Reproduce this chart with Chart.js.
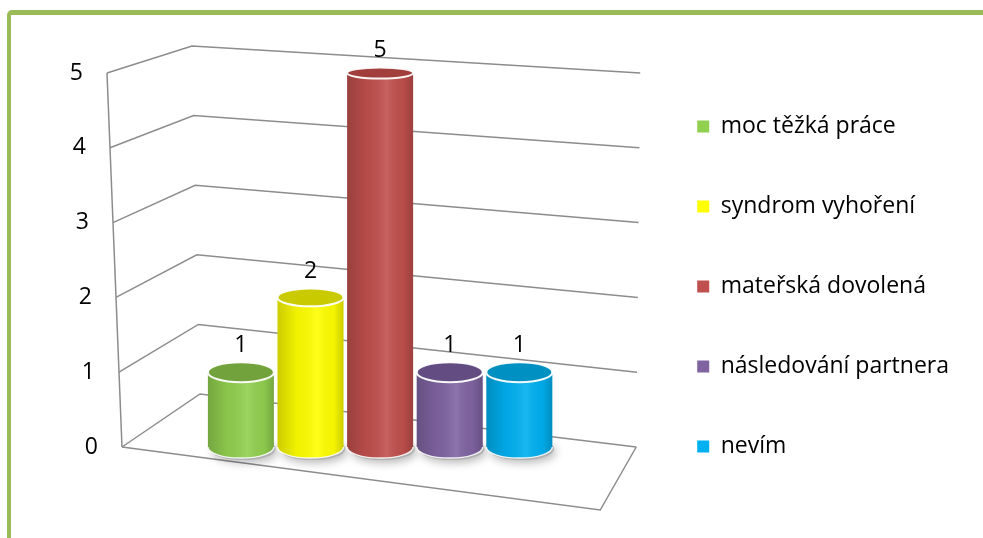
<!DOCTYPE html>
<html>
<head>
<meta charset="utf-8">
<script src="https://cdn.jsdelivr.net/npm/chart.js@4.4.1/dist/chart.umd.min.js"></script>
<style>
  html, body { margin: 0; padding: 0; background: #fff; overflow: hidden; }
  #frame {
    position: absolute; left: 7px; top: 10px; width: 1000px; height: 560px;
    border-top: 5px solid #9BBB59; border-left: 4px solid #9BBB59;
    border-top-left-radius: 5px; box-sizing: border-box;
  }
  #wrap { position: absolute; left: 0; top: 0; width: 983px; height: 538px; }
</style>
</head>
<body>
<div id="frame"></div>
<div id="wrap"><canvas id="c" width="983" height="538"></canvas></div>
<script>
// ---- data ----
const categories = ['moc těžká práce', 'syndrom vyhoření', 'mateřská dovolená', 'následování partnera', 'nevím'];
const values = [1, 2, 5, 1, 1];
const yTicks = [0, 1, 2, 3, 4, 5];
const barColors = ['#92D050', '#FFFF00', '#C0504D', '#8064A2', '#00B0F0'];
const capColors = ['#72A23C', '#CACA00', '#A23E3C', '#624C82', '#0090C2'];

const FONT = "'Open Sans', 'Noto Sans', sans-serif";

function capRy(y, chart) {
  const a = chart.chartArea;
  return 5.5 + (y - a.top) * 0.015;
}

// 3D-looking frame and axis labels drawn from the y scale's pixels
const framePlugin = {
  id: 'frame3d',
  beforeDatasetsDraw(chart) {
    const ctx = chart.ctx;
    const ys = chart.scales.y;
    const a = chart.chartArea;
    const H = a.bottom - a.top;
    const front = (py) => { const t = (a.bottom - py) / H; return a.left + 2 - 15 * t; };
    const back = (py) => { const t = (a.bottom - py) / H; return [a.left + 80 - 8 * t, py - 53 + 26 * t]; };
    const rightX = (py) => { const t = (a.bottom - py) / H; return a.right - 4 + 4 * t; };
    ctx.save();
    ctx.strokeStyle = '#8C8C8C';
    ctx.lineWidth = 1.5;
    yTicks.forEach(v => {
      const py = ys.getPixelForValue(v);
      const [bx, by] = back(py);
      ctx.beginPath();
      ctx.moveTo(front(py), py);
      ctx.lineTo(bx, by);
      ctx.lineTo(rightX(py), py);
      ctx.stroke();
    });
    const pTop = ys.getPixelForValue(yTicks[yTicks.length - 1]);
    const pBot = ys.getPixelForValue(0);
    ctx.beginPath();
    ctx.moveTo(front(pTop), pTop);
    ctx.lineTo(front(pBot), pBot);
    ctx.stroke();
    ctx.beginPath();
    ctx.moveTo(front(pBot), pBot);
    ctx.lineTo(a.right - 40, pBot + 63);
    ctx.lineTo(rightX(pBot), pBot);
    ctx.stroke();
    // tick labels along the slanted front edge
    ctx.fillStyle = '#000';
    ctx.font = '23px ' + FONT;
    ctx.textAlign = 'right';
    ctx.textBaseline = 'middle';
    yTicks.forEach(v => {
      const py = ys.getPixelForValue(v);
      ctx.fillText(String(v), front(py) - 24, py);
    });
    // soft shadows under bars
    chart.data.datasets.forEach((ds, i) => {
      const el = chart.getDatasetMeta(i).data[0];
      if (!el) return;
      const p = el.getProps(['x', 'y', 'base', 'width'], true);
      const ry = capRy(p.base, chart);
      ctx.save();
      ctx.shadowColor = 'rgba(0,0,0,0.45)';
      ctx.shadowBlur = 9;
      ctx.shadowOffsetX = 2;
      ctx.shadowOffsetY = 3;
      ctx.fillStyle = 'rgba(160,160,160,0.6)';
      ctx.beginPath();
      ctx.ellipse(p.x + 2, p.base + 2, p.width / 2, ry, 0, 0, Math.PI * 2);
      ctx.fill();
      ctx.restore();
    });
    ctx.restore();
  }
};

// cylinder shading, caps and value labels on the library's bar elements
const cylPlugin = {
  id: 'cyl',
  afterDatasetsDraw(chart) {
    const ctx = chart.ctx;
    chart.data.datasets.forEach((ds, i) => {
      const el = chart.getDatasetMeta(i).data[0];
      if (!el) return;
      const p = el.getProps(['x', 'y', 'base', 'width'], true);
      const left = p.x - p.width / 2, right = p.x + p.width / 2;
      const rx = p.width / 2;
      const ryTop = capRy(p.y, chart);
      const ryBot = capRy(p.base, chart);
      ctx.save();
      ctx.fillStyle = barColors[i];
      ctx.beginPath();
      ctx.ellipse(p.x, p.base, rx, ryBot, 0, 0, Math.PI);
      ctx.fill();
      const g = ctx.createLinearGradient(left, 0, right, 0);
      g.addColorStop(0, 'rgba(0,0,0,0.20)');
      g.addColorStop(0.3, 'rgba(0,0,0,0.05)');
      g.addColorStop(0.6, 'rgba(255,255,255,0.10)');
      g.addColorStop(0.85, 'rgba(0,0,0,0.04)');
      g.addColorStop(1, 'rgba(0,0,0,0.20)');
      ctx.fillStyle = g;
      ctx.beginPath();
      ctx.moveTo(left, p.y);
      ctx.lineTo(left, p.base);
      ctx.ellipse(p.x, p.base, rx, ryBot, 0, Math.PI, 0, true);
      ctx.lineTo(right, p.y);
      ctx.closePath();
      ctx.fill();
      ctx.strokeStyle = 'rgba(255,255,255,0.85)';
      ctx.lineWidth = 1.5;
      ctx.beginPath();
      ctx.ellipse(p.x, p.base, rx, ryBot, 0, 0, Math.PI);
      ctx.stroke();
      ctx.fillStyle = capColors[i];
      ctx.beginPath();
      ctx.ellipse(p.x, p.y, rx, ryTop, 0, 0, Math.PI * 2);
      ctx.fill();
      ctx.strokeStyle = 'rgba(255,255,255,0.95)';
      ctx.lineWidth = 2;
      ctx.stroke();
      ctx.fillStyle = '#000';
      ctx.font = '23px ' + FONT;
      ctx.textAlign = 'center';
      ctx.textBaseline = 'middle';
      ctx.fillText(String(values[i]), p.x, p.y - ryTop - 17);
      ctx.restore();
    });
  }
};

function build() {
  Chart.defaults.font.family = FONT;
  Chart.defaults.color = '#000';
  new Chart(document.getElementById('c'), {
    type: 'bar',
    data: {
      labels: [''],
      datasets: categories.map((c, i) => ({
        label: c,
        data: [values[i]],
        backgroundColor: barColors[i],
        borderWidth: 0,
        barPercentage: 0.948,
        categoryPercentage: 0.669
      }))
    },
    options: {
      responsive: false,
      animation: false,
      layout: { padding: { left: 120, right: 24, top: 40, bottom: 5 } },
      scales: {
        x: {
          display: true,
          grid: { display: false },
          border: { display: false },
          ticks: { display: false },
          afterFit: s => { s.height = 86; }
        },
        xTop: {
          type: 'category',
          position: 'top',
          display: true,
          grid: { display: false },
          border: { display: false },
          ticks: { display: false },
          afterFit: s => { s.height = 33; }
        },
        y: {
          display: false,
          min: 0,
          max: 5,
          ticks: { stepSize: 1 }
        }
      },
      plugins: {
        legend: {
          position: 'right',
          align: 'center',
          labels: {
            boxWidth: 12,
            boxHeight: 12,
            padding: 57,
            font: { size: 23, family: FONT },
            color: '#000'
          }
        },
        tooltip: { enabled: false }
      }
    },
    plugins: [framePlugin, cylPlugin]
  });
}

if (document.fonts && document.fonts.load) {
  document.fonts.load('23px "Open Sans"').then(build, build);
} else {
  build();
}
</script>
</body>
</html>
